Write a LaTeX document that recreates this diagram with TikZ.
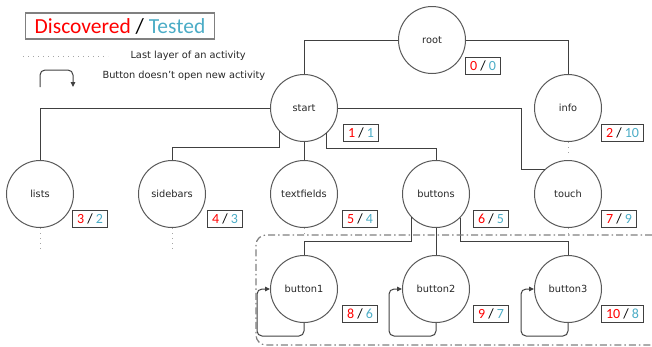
\documentclass[tikz,border=0pt]{standalone}
\usepackage{fontspec}
\setmainfont{DejaVu Sans}
\newfontfamily\calfont{Carlito}
\usetikzlibrary{arrows.meta}

\definecolor{discred}{RGB}{255,0,0}
\definecolor{testblue}{RGB}{75,172,198}
\definecolor{linegray}{RGB}{64,64,64}
\definecolor{circgray}{RGB}{89,89,89}
\definecolor{dotgray}{RGB}{165,165,165}
\definecolor{framegray}{RGB}{128,128,128}

% discovered / tested counter
\newcommand{\dtcount}[2]{{\color{discred}#1} / {\color{testblue}#2}}

\begin{document}
\begin{tikzpicture}[x=1pt,y=-1pt,
  activity/.style={circle,draw=circgray,line width=1pt,minimum size=67pt,inner sep=0pt,
    text=black!85,font=\fontsize{9.8}{12}\selectfont},
  cnt/.style={draw=linegray,line width=1pt,anchor=north west,minimum height=17pt,
    inner xsep=4.5pt,inner ysep=0pt,font=\calfont\fontsize{14}{16}\selectfont},
  link/.style={draw=linegray,line width=1pt},
  lastlayer/.style={draw=dotgray,line width=1pt,dash pattern=on 1pt off 4pt},
  selfloop/.style={link,rounded corners=5pt,-{Triangle[length=5pt,width=4.5pt]}},
  legendtext/.style={anchor=west,text=black!85,font=\fontsize{9.8}{12}\selectfont},
]
\useasboundingbox (0,0) rectangle (652,346);

% legend
\node[draw=framegray,line width=1.5pt,minimum height=26pt,inner xsep=9pt,inner ysep=0pt,
  font=\calfont\fontsize{21.5}{24}\selectfont] (legend) at (120,26)
  {{\color{discred}Discovered} / {\color{testblue}Tested}};

\coordinate (dotA) at (23,56);
\coordinate (dotB) at (108,56);
\draw[lastlayer] (dotA) -- (dotB);
\node[legendtext] (lastlbl) at (127,56) {Last layer of an activity};

\coordinate (loopA) at (40,87);
\coordinate (loopB) at (73,87);
\draw[selfloop] (loopA) -- ++(0,-17) -| (loopB);
\node[legendtext] (looplbl) at (99,76) {Button doesn’t open new activity};

% activities
\node[activity] (root) at (432,40) {root};
\node[activity] (start) at (304,108) {start};
\node[activity] (info) at (568,108) {info};

\node[activity] (lists) at (40,194) {lists};
\node[activity] (sidebars) at (172,194) {sidebars};
\node[activity] (textfields) at (304,194) {textfields};
\node[activity] (buttons) at (436,194) {buttons};
\node[activity] (touch) at (568,194) {touch};

\node[activity] (button1) at (304,289) {button1};
\node[activity] (button2) at (436,289) {button2};
\node[activity] (button3) at (568,289) {button3};

% counters
\node[cnt] (rootcnt) at (465,57) {\dtcount{0}{0}};
\node[cnt] (startcnt) at (343,124) {\dtcount{1}{1}};
\node[cnt] (infocnt) at (601,124) {\dtcount{2}{10}};
\node[cnt] (listscnt) at (72,210) {\dtcount{3}{2}};
\node[cnt] (sidebarscnt) at (207,210) {\dtcount{4}{3}};
\node[cnt] (textfieldscnt) at (342,210) {\dtcount{5}{4}};
\node[cnt] (buttonscnt) at (473,210) {\dtcount{6}{5}};
\node[cnt] (touchcnt) at (601,210) {\dtcount{7}{9}};
\node[cnt] (button1cnt) at (342,305) {\dtcount{8}{6}};
\node[cnt] (button2cnt) at (473,305) {\dtcount{9}{7}};
\node[cnt] (button3cnt) at (601,305) {\dtcount{10}{8}};

% tree
\draw[link] (root.west) -| (start.north);
\draw[link] (root.east) -| (info.north);

\draw[link] (start.west) -| (lists.north);
\draw[link] (start.223) -- ++(0,16) -| (sidebars.north);
\draw[link] (start.south) -- (textfields.north);
\draw[link] (start.-48) -- ++(0,15) -| (buttons.north);
\draw[link] (start.east) -- ++(183,0) |- (touch.133);

\draw[link] (buttons.223) -- ++(0,24) -| (button1.north);
\draw[link] (buttons.south) -- (button2.north);
\draw[link] (buttons.-44) -- ++(0,24) -| (button3.north);

\foreach \b in {button1,button2,button3} {
  \draw[selfloop] (\b.south) -- ++(0,13) -- ++(-47,0) |- (\b.west);
}

% last layers
\draw[lastlayer] (info.south) -- ++(0,12);
\draw[lastlayer] (lists.south) -- ++(0,23);
\draw[lastlayer] (sidebars.south) -- ++(0,23);
\draw[lastlayer] (textfields.south) -- ++(0,7);
\draw[lastlayer] (touch.south) -- ++(0,7);

% buttons frame
\draw[draw=framegray,line width=1.2pt,rounded corners=10pt,
  dash pattern=on 7pt off 3pt on 1.5pt off 3pt]
  (652,235) -- (256,235) -- (256,345) -- (652,345);

\end{tikzpicture}
\end{document}
